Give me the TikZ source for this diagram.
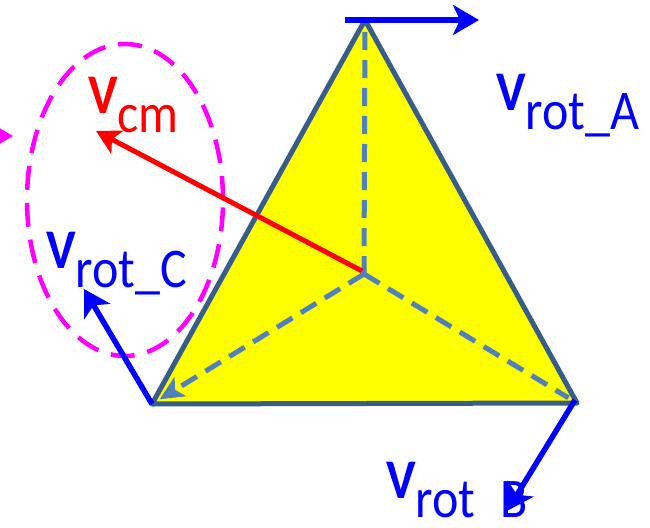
\documentclass[tikz,border=0pt]{standalone}
\usepackage{fontspec}
\setmainfont{Carlito}
\usetikzlibrary{arrows.meta}
\definecolor{edgeblue}{RGB}{56,93,138}
\definecolor{dashblue}{RGB}{79,129,189}
\definecolor{vblue}{RGB}{0,0,255}
\definecolor{vred}{RGB}{255,0,0}
\definecolor{vmag}{RGB}{255,0,255}
\definecolor{vyellow}{RGB}{255,255,0}
\newcommand{\vlabel}[1]{\scalebox{1}[1.12]{\textbf{V}\raisebox{-17pt}[\height][0pt]{#1}}}

\begin{document}
\begin{tikzpicture}[x=1pt,y=-1pt,
  vec/.style={vblue,line width=5.5pt,-{Stealth[length=26pt,width=30pt,inset=7pt]}},
  dashln/.style={dashblue,line width=5pt,dash pattern=on 18pt off 10pt},
  lbl/.style={inner sep=0pt,anchor=base west,font=\fontsize{50}{58}\selectfont}]
  \useasboundingbox (0,0) rectangle (650,527);
  \clip (0,0) rectangle (650,527);
  \coordinate (A) at (365,20);
  \coordinate (B) at (577,403);
  \coordinate (C) at (152,404);
  \coordinate (O) at (364,274);
  \coordinate (vA0) at (345,20);
  \coordinate (vA) at (479,20);
  \coordinate (vB0) at (575,400);
  \coordinate (vB) at (507,511);
  \coordinate (vC) at (84,289);
  \coordinate (vcm) at (96,131);

  \draw[vmag,line width=4.5pt,dash pattern=on 24pt off 13pt] (125,200) ellipse [x radius=98pt, y radius=156pt];
  \fill[vmag] (-4,126) -- (13,136) -- (-4,146) -- cycle;

  \filldraw[fill=vyellow,draw=edgeblue,line width=5pt,line join=round] (A) -- (B) -- (C) -- cycle;
  \draw[dashln] (O) -- (A);
  \draw[dashln,shorten >=10pt] (O) -- (B);
  \draw[dashln,shorten >=9pt,-{Stealth[length=24pt,width=22pt,inset=6pt]}] (O) -- (C);

  \draw[vred,line width=5pt,-{Stealth[length=24pt,width=26pt,inset=6pt]}] (362,271) -- (vcm);
  \draw[vec] (vA0) -- (vA);
  \draw[vec] (C) -- (vC);
  \draw[vec] (vB0) -- (vB);

  \node[lbl,vred] (lcm) at (88,113) {\vlabel{cm}};
  \node[lbl,vblue] (lA) at (496,110) {\vlabel{rot\_A}};
  \node[lbl,vblue] (lC) at (46,268) {\vlabel{rot\_C}};
  \node[lbl,vblue] (lB) at (386,498) {\vlabel{rot\hspace{0.5em}B}};
\end{tikzpicture}
\end{document}
